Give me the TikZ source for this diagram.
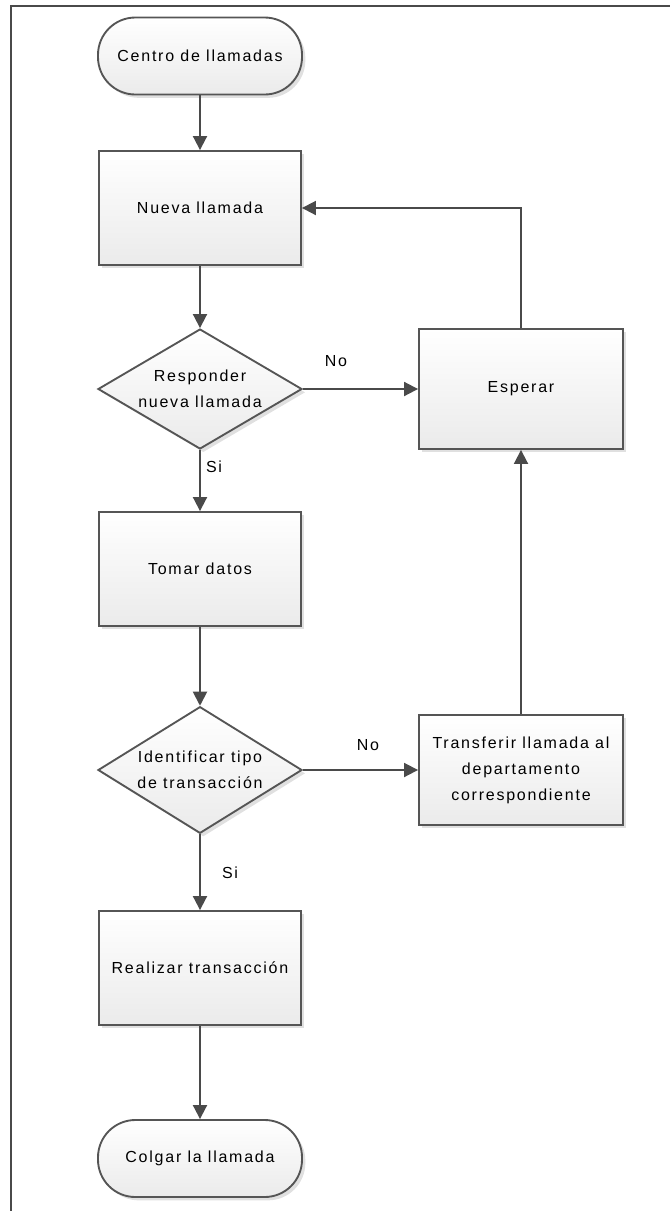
\documentclass[tikz,border=0pt]{standalone}
\usepackage{fontspec}
\setmainfont{Liberation Sans}[LetterSpace=11]
\usetikzlibrary{shapes.geometric,arrows.meta,shadows}
\definecolor{ln}{HTML}{4A4A4A}
\definecolor{bd}{HTML}{555555}
\begin{document}
\begin{tikzpicture}[x=0.75pt,y=-0.75pt,
  base/.style={draw=bd, line width=1.4pt, top color=white, bottom color=black!8,
    drop shadow={shadow xshift=2.5pt, shadow yshift=-2.5pt, fill=black!12, opacity=1},
    align=center, font=\fontsize{12pt}{19.5pt}\selectfont, text=black, inner sep=0pt},
  stepbox/.style={base, rectangle, minimum width=151.5pt, minimum height=85.5pt},
  term/.style={base, rectangle, rounded corners=28pt, minimum width=153pt, minimum height=57.75pt},
  decide/.style={base, diamond, minimum width=153pt},
  arr/.style={draw=ln, line width=1.4pt, -{Triangle[width=10.5pt,length=10.5pt]}},
  lbl/.style={font=\fontsize{12pt}{14pt}\selectfont, text=black, inner sep=0pt},
  frame/.style={draw=ln, line width=1.5pt}
]
\useasboundingbox (0,0) rectangle (670,1211);
\coordinate (f1) at (11,1211);
\coordinate (f2) at (11,6);
\coordinate (f3) at (670,6);
\draw[frame] (f1) -- (f2) -- (f3);

\node[term] (start) at (200,56) {Centro de llamadas};
\node[stepbox] (nueva) at (200,208) {Nueva llamada};
\node[decide, minimum height=90pt] (d1) at (200,389)
  {\makebox[0pt]{\begin{tabular}{@{}c@{}}Responder\\nueva llamada\end{tabular}}};
\node[stepbox, minimum width=153pt, minimum height=90pt] (esperar) at (521,389) {Esperar};
\node[stepbox] (tomar) at (200,569) {Tomar datos};
\node[decide, minimum height=95pt] (d2) at (200,770)
  {\makebox[0pt]{\begin{tabular}{@{}c@{}}Identificar tipo\\de transacción\end{tabular}}};
\node[stepbox, minimum width=153pt, minimum height=82.5pt] (transf) at (521,770)
  {Transferir llamada al\\departamento\\correspondiente};
\node[stepbox] (realizar) at (200,968) {Realizar transacción};
\node[term] (colgar) at (200,1158.5) {Colgar la llamada};

\node[lbl] (no1) at (336,361) {No};
\node[lbl] (si1) at (214,467) {Si};
\node[lbl] (no2) at (368,745) {No};
\node[lbl] (si2) at (230,873) {Si};

\draw[arr] (start) -- (nueva);
\draw[arr] (nueva) -- (d1);
\draw[arr] (d1) -- (esperar);
\draw[arr] (d1) -- (tomar);
\draw[arr] (esperar.north) |- (nueva.east);
\draw[arr] (tomar) -- (d2);
\draw[arr] (d2) -- (transf);
\draw[arr] (transf) -- (esperar);
\draw[arr] (d2) -- (realizar);
\draw[arr] (realizar) -- (colgar);
\end{tikzpicture}
\end{document}
